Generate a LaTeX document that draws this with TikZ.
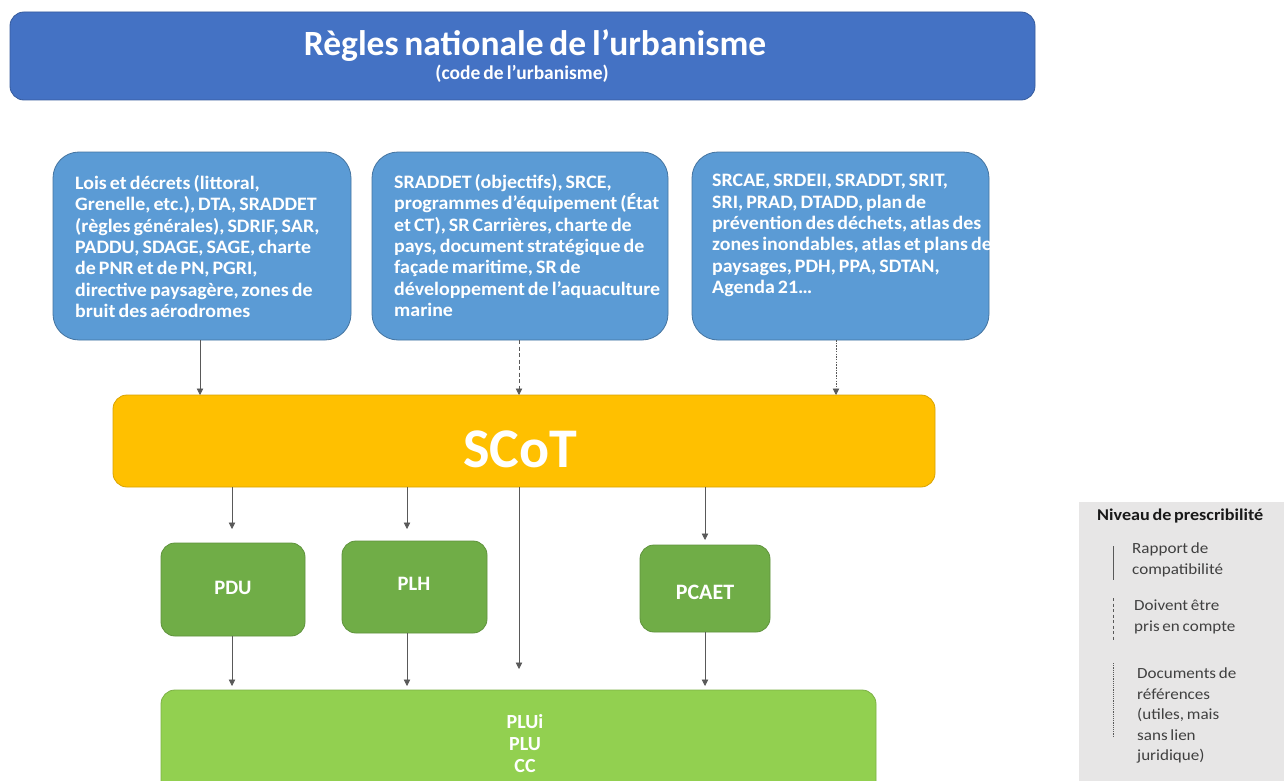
\documentclass[tikz,border=0pt]{standalone}
\usepackage{fontspec}
\setmainfont{Carlito}
\newfontfamily\widefont[FakeStretch=1.05]{Carlito}
\newfontfamily\legfont[FakeStretch=1.1]{Carlito}
\usetikzlibrary{arrows.meta,calc}
\newcommand\tightsp{\spaceskip=0.16em plus 0.05em\relax}
\newcommand\legsp{\spaceskip=0.18em plus 0.05em\relax}
\definecolor{navy}{HTML}{4472C4}
\definecolor{sky}{HTML}{5B9BD5}
\definecolor{amber}{HTML}{FFC000}
\definecolor{leaf}{HTML}{70AD47}
\definecolor{lime}{HTML}{92D050}
\definecolor{panel}{HTML}{E7E6E6}
\definecolor{wire}{HTML}{595959}
\begin{document}
\begin{tikzpicture}[x=1pt,y=-1pt,
  box/.style={rounded corners=#1,line width=0.8pt},
  txt/.style={text=white,font=\bfseries},
  link/.style={draw=wire,line width=0.8pt,-{Triangle[width=6.5pt,length=6.5pt]}},
  leg/.style={text=black!75,align=left,anchor=north west,inner sep=0pt,font=\legfont\fontsize{15.5}{20.5}\selectfont\legsp}]
\useasboundingbox (0,0) rectangle (1284,781);
\fill[white] (0,0) rectangle (1284,781);

% national rules banner
\draw[box=14pt,fill=navy,draw=navy!80!black] (10,12) rectangle (1035,100);
\node[txt,font=\bfseries\fontsize{35.5}{37}\selectfont\tightsp] (rnu) at (535,46) {Règles nationale de l’urbanisme};
\node[txt,font=\bfseries\fontsize{19.5}{20}\selectfont\tightsp] (code) at (522,74) {(code de l’urbanisme)};

% three families of higher-level documents
\draw[box=26pt,fill=sky,draw=sky!75!black] (53,152) rectangle (351,340);
\draw[box=26pt,fill=sky,draw=sky!75!black] (372,152) rectangle (668,340);
\draw[box=26pt,fill=sky,draw=sky!75!black] (692,152) rectangle (989,340);
\coordinate (b1) at (200,340);
\coordinate (b2) at (519,340);
\coordinate (b3) at (836,340);
\begin{scope}[every node/.style={txt,align=left,anchor=north west,inner sep=0pt,font=\widefont\bfseries\fontsize{19}{21.4}\selectfont\tightsp}]
\node (t1) at (75,175) {Lois et décrets (littoral,\\Grenelle, etc.), DTA, SRADDET\\(règles générales), SDRIF, SAR,\\PADDU, SDAGE, SAGE, charte\\de PNR et de PN, PGRI,\\directive paysagère, zones de\\bruit des aérodromes};
\node (t2) at (394,174) {SRADDET (objectifs), SRCE,\\programmes d’équipement (État\\et CT), SR Carrières, charte de\\pays, document stratégique de\\façade maritime, SR de\\développement de l’aquaculture\\marine};
\node (t3) at (712,174) {SRCAE, SRDEII, SRADDT, SRIT,\\SRI, PRAD, DTADD, plan de\\prévention des déchets, atlas des\\zones inondables, atlas et plans de\\paysages, PDH, PPA, SDTAN,\\Agenda 21…};
\end{scope}

% SCoT
\draw[box=14pt,fill=amber,draw=amber!85!black] (113,395) rectangle (935,487);
\node[txt,font=\bfseries\fontsize{56}{58}\selectfont] (scot) at (520,449) {SCoT};
\coordinate (s1) at (200,395);
\coordinate (s2) at (519,395);
\coordinate (s3) at (836,395);
\draw[link] (b1) -- (s1);
\draw[link,dash pattern=on 4pt off 2.5pt] (b2) -- (s2);
\draw[link,dash pattern=on 1.5pt off 1.2pt] (b3) -- (s3);

% intermediate plans
\draw[box=14pt,fill=leaf,draw=leaf!85!black] (161,543) rectangle (305,636);
\draw[box=14pt,fill=leaf,draw=leaf!85!black] (342,541) rectangle (487,633);
\draw[box=14pt,fill=leaf,draw=leaf!85!black] (640,545) rectangle (770,632);
\node[txt,font=\bfseries\fontsize{20.5}{22}\selectfont] (pdu) at (233,588) {PDU};
\node[txt,font=\bfseries\fontsize{20.5}{22}\selectfont] (plh) at (414,584) {PLH};
\node[txt,font=\bfseries\fontsize{22}{24}\selectfont] (pcaet) at (705,592) {PCAET};

% local plans
\draw[box=14pt,fill=lime,draw=lime!85!black] (161,690) rectangle (876,800);
\node[txt,align=center,font=\bfseries\fontsize{20}{22}\selectfont] (plu) at (525,744) {PLUi\\PLU\\CC};

\coordinate (p1) at (232,543);
\coordinate (p2) at (407,541);
\coordinate (p3) at (705,545);
\coordinate (q1) at (232,636);
\coordinate (q2) at (407,633);
\coordinate (q3) at (705,632);
\coordinate (s4) at (232,487);
\coordinate (s5) at (407,487);
\coordinate (s6) at (519,487);
\coordinate (s7) at (705,487);
\coordinate (l1) at (232,686);
\coordinate (l2) at (407,686);
\coordinate (l3) at (519,669);
\coordinate (l4) at (705,686);
\draw[link] (s4) -- ($(p1)+(0,-14)$);
\draw[link] (s5) -- ($(p2)+(0,-12)$);
\draw[link] (s7) -- ($(p3)+(0,-5)$);
\draw[link] (s6) -- (l3);
\draw[link] (q1) -- (l1);
\draw[link] (q2) -- (l2);
\draw[link] (q3) -- (l4);

% legend panel
\fill[panel] (1079,502) rectangle (1284,781);
\node[anchor=north west,inner sep=0pt,text=black!90,font=\legfont\bfseries\fontsize{16.5}{18}\selectfont\tightsp] (lt) at (1097,509) {Niveau de prescribilité};
\coordinate (k1) at (1113,546);
\coordinate (k2) at (1113,580);
\coordinate (k3) at (1113,598);
\coordinate (k4) at (1113,640);
\coordinate (k5) at (1113,663);
\coordinate (k6) at (1113,736);
\draw[wire,line width=0.9pt] (k1) -- (k2);
\draw[wire,line width=0.9pt,dash pattern=on 3pt off 2.5pt] (k3) -- (k4);
\draw[wire,line width=0.9pt,dash pattern=on 1.2pt off 1pt] (k5) -- (k6);
\node[leg] (r1) at (1132,543) {Rapport de\\compatibilité};
\node[leg] (r2) at (1134,600) {Doivent être\\pris en compte};
\node[leg] (r3) at (1137,668) {Documents de\\références\\(utiles, mais\\sans lien\\juridique)};
\end{tikzpicture}
\end{document}
